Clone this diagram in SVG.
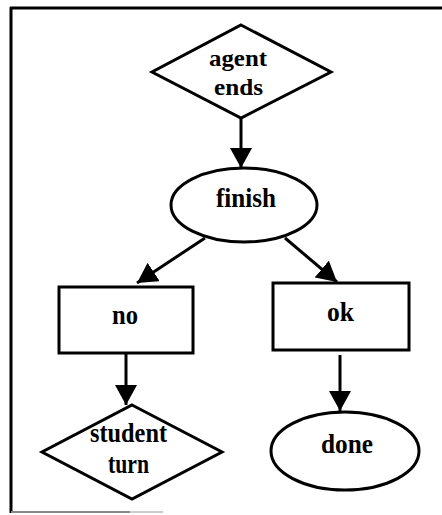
<svg xmlns="http://www.w3.org/2000/svg" width="442" height="515" viewBox="0 0 442 515">
<style>
.s{fill:#fff;stroke:#000;stroke-width:3}
.t{font-family:"Liberation Serif","Times New Roman",serif;font-weight:bold;font-size:27px;fill:#000}
.c{stroke:#000;stroke-width:3;fill:none}
</style>
<defs>
<marker id="a" viewBox="0 0 20 22" refX="20" refY="11" markerWidth="20" markerHeight="22" markerUnits="userSpaceOnUse" orient="auto">
<path d="M0,0 L20,11 L0,22 z" fill="#000"/>
</marker>
</defs>
<g id="frame">
<line x1="10" y1="8" x2="442" y2="8" stroke="#000" stroke-width="3"/>
<line x1="11" y1="7" x2="11" y2="513" stroke="#000" stroke-width="3"/>
<line x1="11" y1="512" x2="130" y2="512" stroke="#888" stroke-width="2"/>
<line x1="130" y1="512" x2="163" y2="512" stroke="#ccc" stroke-width="2"/>
</g>
<g id="connectors">
<line class="c" x1="241" y1="118" x2="241" y2="168" marker-end="url(#a)"/>
<line class="c" x1="205" y1="238" x2="137" y2="283" marker-end="url(#a)"/>
<line class="c" x1="285" y1="238" x2="337" y2="282" marker-end="url(#a)"/>
<line class="c" x1="126" y1="353" x2="126" y2="405" marker-end="url(#a)"/>
<line class="c" x1="340" y1="355" x2="340" y2="411" marker-end="url(#a)"/>
</g>
<g id="agent-ends">
<polygon class="s" points="241,25 331,72 241,118 152,72"/>
<text class="t" x="209" y="66" textLength="58" lengthAdjust="spacingAndGlyphs" style="font-size:24px">agent</text>
<text class="t" x="214" y="95" textLength="49" lengthAdjust="spacingAndGlyphs" style="font-size:24px">ends</text>
</g>
<g id="finish">
<ellipse class="s" cx="244" cy="205" rx="73" ry="37"/>
<text class="t" x="216" y="207" textLength="60" lengthAdjust="spacingAndGlyphs">finish</text>
</g>
<g id="no">
<rect class="s" x="59" y="287" width="134" height="66"/>
<text class="t" x="112" y="324" textLength="26" lengthAdjust="spacingAndGlyphs">no</text>
</g>
<g id="ok">
<rect class="s" x="273" y="283" width="136" height="67"/>
<text class="t" x="327" y="321" textLength="27" lengthAdjust="spacingAndGlyphs">ok</text>
</g>
<g id="student-turn">
<polygon class="s" points="132,405 222,452 132,499 42,452"/>
<text class="t" x="90" y="442" textLength="77" lengthAdjust="spacingAndGlyphs">student</text>
<text class="t" x="108" y="473" textLength="41" lengthAdjust="spacingAndGlyphs">turn</text>
</g>
<g id="done">
<ellipse class="s" cx="345" cy="451" rx="74" ry="39"/>
<text class="t" x="321" y="453" textLength="52" lengthAdjust="spacingAndGlyphs">done</text>
</g>
</svg>
